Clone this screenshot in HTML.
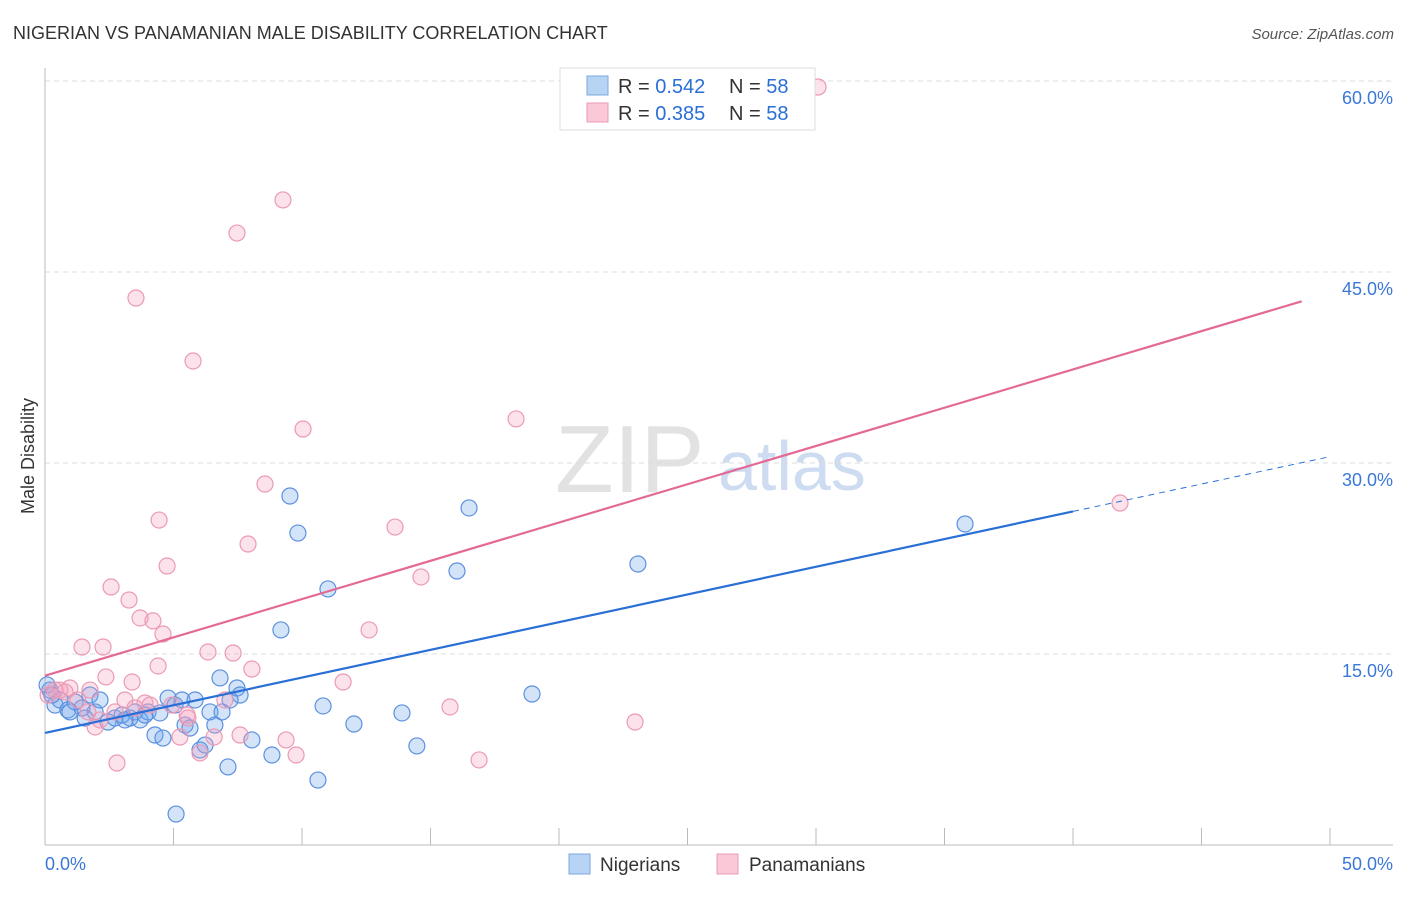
<!DOCTYPE html>
<html><head><meta charset="utf-8"><style>
body{margin:0;background:#fff;font-family:"Liberation Sans",sans-serif}
svg text{font-family:"Liberation Sans",sans-serif}
</style></head><body>
<svg width="1406" height="892" xmlns="http://www.w3.org/2000/svg" id="chart">
<text x="13" y="39" font-size="18" fill="#333">NIGERIAN VS PANAMANIAN MALE DISABILITY CORRELATION CHART</text>
<text x="1394" y="39" font-size="15" fill="#555" text-anchor="end" font-style="italic">Source: ZipAtlas.com</text>
<text x="555" y="492" font-size="96" fill="#e2e2e2" font-family="Liberation Serif">ZIP</text>
<text x="718" y="490" font-size="70" fill="#cddcf0">atlas</text>
<text transform="translate(34,456) rotate(-90)" font-size="18" fill="#333" text-anchor="middle">Male Disability</text>
<g id="grid"></g><g id="pts"></g><g id="lines"></g>
<g>
<rect x="560" y="68" width="255" height="62" fill="#fff" stroke="#ddd"/>
<rect x="587" y="76" width="21" height="19" fill="#b8d4f5" stroke="#7aa8e0"/>
<rect x="587" y="103" width="21" height="19" fill="#fac8d6" stroke="#eb9ab4"/>
<text x="618" y="93" font-size="20" fill="#333">R = <tspan fill="#2a6fd6">0.542</tspan></text>
<text x="729" y="93" font-size="20" fill="#333">N = <tspan fill="#2a6fd6">58</tspan></text>
<text x="618" y="120" font-size="20" fill="#333">R = <tspan fill="#2a6fd6">0.385</tspan></text>
<text x="729" y="120" font-size="20" fill="#333">N = <tspan fill="#2a6fd6">58</tspan></text>
</g>
<g>
<rect x="569" y="854" width="21" height="20" fill="#b8d4f5" stroke="#7aa8e0"/>
<text x="600" y="871" font-size="19" fill="#333">Nigerians</text>
<rect x="717" y="854" width="21" height="20" fill="#fac8d6" stroke="#eb9ab4"/>
<text x="749" y="871" font-size="19" fill="#333">Panamanians</text>
</g>
</svg>
<script>
const yTicks=[15,30,45,60];
const yTickLabels=["15.0%","30.0%","45.0%","60.0%"];
const xTicks=[0,5,10,15,20,25,30,35,40,45,50];
const blueX=[0.19,0.39,0.58,0.89,1.17,1.44,1.75,1.95,2.14,2.45,2.72,3.0,3.31,3.5,3.7,4.01,4.28,4.47,4.59,4.79,5.06,5.33,5.45,5.84,6.03,6.23,6.42,6.61,6.81,6.89,7.12,7.47,7.59,8.05,8.83,9.18,9.53,9.84,10.62,10.82,11.01,12.02,13.89,14.47,16.03,16.5,18.95,23.07,35.8,5.1,0.08,0.27,0.97,1.56,3.11,3.89,5.64,7.2];
const blueY=[12.17,10.99,11.39,10.6,11.23,10.76,11.78,10.45,11.39,9.66,9.97,10.21,9.97,10.45,9.82,10.45,8.64,10.37,8.4,11.54,10.99,11.39,9.42,11.39,7.46,7.85,10.45,9.42,13.12,10.45,6.13,12.33,11.78,8.25,7.07,16.89,27.41,24.5,5.1,10.92,20.11,9.5,10.37,7.78,21.52,26.47,11.86,22.07,25.21,2.43,12.57,11.78,10.45,9.97,9.82,10.21,9.19,11.39];
const pinkX=[30.08,9.26,7.47,3.54,5.76,10.04,18.33,8.56,4.44,7.9,13.62,4.75,14.63,2.57,3.27,3.7,4.2,4.59,1.44,2.26,6.34,7.32,4.4,8.05,12.61,11.6,2.37,3.39,0.58,0.97,1.75,3.11,3.89,3.5,5.53,5.56,2.14,1.95,5.25,7.0,7.59,6.58,6.03,9.38,9.77,15.76,16.89,22.96,41.83,2.8,0.12,0.39,0.78,1.28,1.67,2.72,4.09,4.94];
const pinkY=[59.53,50.66,48.06,42.96,38.01,32.67,33.46,28.35,25.52,23.64,24.97,21.91,21.05,20.26,19.24,17.83,17.6,16.57,15.55,15.55,15.16,15.08,14.06,13.82,16.89,12.8,13.2,12.8,12.17,12.33,12.17,11.39,11.15,10.76,10.21,9.97,9.82,9.27,8.48,11.39,8.64,8.48,7.23,8.25,7.07,10.84,6.68,9.66,26.86,6.44,11.78,12.17,12.02,11.39,10.45,10.45,10.99,10.99];
const blueLine=[[0,8.8],[40,26.2]];const blueDash=[[40,26.2],[50,30.5]];
const pinkLine=[[0,13.3],[48.9,42.7]];
const X=v=>45+v*25.7, Y=v=>845-v*12.733;
const NS="http://www.w3.org/2000/svg";
function mk(t,a,p){const e=document.createElementNS(NS,t);for(const k in a)e.setAttribute(k,a[k]);p.appendChild(e);return e;}
const g=document.getElementById('grid');
yTicks.forEach((t,i)=>{
 const l=mk('line',{x1:45,x2:1393,y1:Y(t),y2:Y(t),stroke:'#ddd','stroke-dasharray':'5,4'},g);
 
 
 const tx=mk('text',{x:1393,y:Y(t)+23,'font-size':18,fill:'#3a78d8','text-anchor':'end'},g);tx.textContent=yTickLabels[i];
 
 
});
const ax=mk('line',{x1:45,x2:1393,y1:845,y2:845,stroke:'#bbb'},g);


const ay=mk('line',{x1:45,x2:45,y1:68,y2:845,stroke:'#bbb'},g);


xTicks.forEach(t=>{const l=mk('line',{x1:X(t),x2:X(t),y1:828,y2:845,stroke:'#bbb'},g);
 
 });
[["0.0%",45,'start'],["50.0%",1393,'end']].forEach(a=>{const t=mk('text',{x:a[1],y:870,'font-size':18,fill:'#3a78d8','text-anchor':a[2]},g);t.textContent=a[0];
 
 });
const p=document.getElementById('pts');
blueX.forEach((x,i)=>{const c=mk('circle',{cx:X(x),cy:Y(blueY[i]),r:8,fill:'rgba(110,165,235,0.3)',stroke:'#5b90e0','stroke-width':1.2},p);
 
 });
pinkX.forEach((x,i)=>{const c=mk('circle',{cx:X(x),cy:Y(pinkY[i]),r:8,fill:'rgba(245,160,190,0.3)',stroke:'#eb9ab4','stroke-width':1.2},p);
 
 });
const L=document.getElementById('lines');
const b=mk('line',{x1:X(blueLine[0][0]),y1:Y(blueLine[0][1]),x2:X(blueLine[1][0]),y2:Y(blueLine[1][1]),stroke:'#2a6fd6','stroke-width':2.2},L);


const bd=mk('line',{x1:X(blueDash[0][0]),y1:Y(blueDash[0][1]),x2:X(blueDash[1][0]),y2:Y(blueDash[1][1]),stroke:'#2a6fd6','stroke-width':1,'stroke-dasharray':'6,5'},L);


const pl=mk('line',{x1:X(pinkLine[0][0]),y1:Y(pinkLine[0][1]),x2:X(pinkLine[1][0]),y2:Y(pinkLine[1][1]),stroke:'#e36a96','stroke-width':2.2},L);


</script>
</body></html>
